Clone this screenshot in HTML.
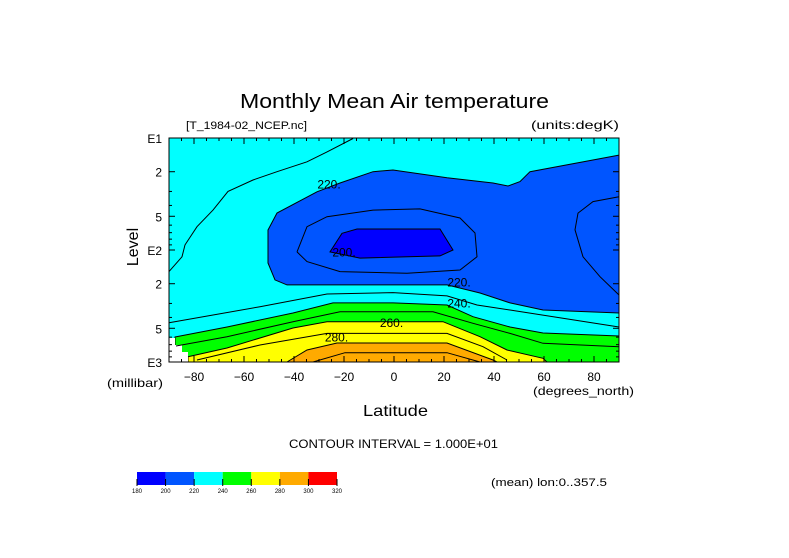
<!DOCTYPE html>
<html><head><meta charset="utf-8"><style>
body{margin:0;background:#fff;}
svg{display:block;font-family:"Liberation Sans",sans-serif;}
</style></head><body>
<svg id="chart" width="789" height="558" viewBox="0 0 789 558" xmlns="http://www.w3.org/2000/svg">
<rect width="789" height="558" fill="#fff"/>
<text x="240" y="108" font-size="20" textLength="309" lengthAdjust="spacingAndGlyphs" fill="#000">Monthly Mean Air temperature</text>
<text x="186" y="129" font-size="11" textLength="121" lengthAdjust="spacingAndGlyphs" fill="#000">[T_1984-02_NCEP.nc]</text>
<text x="531" y="129" font-size="12" textLength="88" lengthAdjust="spacingAndGlyphs" fill="#000">(units:degK)</text>
<g id="plot"></g>
<g id="axes"></g>
<text x="107" y="387" font-size="12" textLength="56" lengthAdjust="spacingAndGlyphs" fill="#000">(millibar)</text>
<text x="533" y="395" font-size="12" textLength="101" lengthAdjust="spacingAndGlyphs" fill="#000">(degrees_north)</text>
<text x="363" y="416" font-size="16" textLength="65" lengthAdjust="spacingAndGlyphs" fill="#000">Latitude</text>
<text x="138" y="247" font-size="16" text-anchor="middle" fill="#000" transform="rotate(-90 138 247)">Level</text>
<text x="289" y="448" font-size="12" textLength="209" lengthAdjust="spacingAndGlyphs" fill="#000">CONTOUR INTERVAL = 1.000E+01</text>
<g id="cbar"></g>
<text x="491" y="486" font-size="11" textLength="116" lengthAdjust="spacingAndGlyphs" fill="#000">(mean) lon:0..357.5</text>
</svg>
<script>
// axis tick data
const latTicks=[-80,-60,-40,-20,0,20,40,60,80];
const levTicks=[10,20,50,100,200,500,1000];
const levLabels=["E1","2","5","E2","2","5","E3"];
// colorbar data
const cbLevels=[180,200,220,240,260,280,300,320];
const cbColors=["#0000ff","#0055ff","#00ffff","#00ff00","#ffff00","#ffaa00","#ff0000"];
// filled regions: [lat, pressure hPa]
const region200_220=[[90,14.2],[54.4,20],[50.4,24.5],[45.6,26.8],[39.6,25.2],[21.2,22.6],[-0.4,19.3],[-8.4,20],[-21.6,25.2],[-30.8,30.2],[-46.8,46.7],[-50.4,66.3],[-50.4,130.6],[-47.6,185],[-42.8,205],[21.2,205],[34.4,242],[46.4,297],[59.6,343],[90,365]];
const region180_200=[[-20.8,71],[-14.8,65],[18.4,65],[23.6,100],[18.4,113],[-13.6,118],[-25.6,104]];
const region240=[[-87.6,598],[-66.8,487],[-40.4,365],[-24.4,297],[-0.4,297],[21.2,310],[31.6,394],[46.4,487],[59.6,551],[90,586],[90,1000],[-87.6,1000]];
const region260=[[-82.4,897],[-66.8,750],[-40.4,497],[-26.8,437],[19.6,437],[34.4,594],[45.2,781],[59.6,927],[61.2,1000],[-82.4,1000]];
const region280=[[-42.8,1000],[-34.8,781],[-22.8,676],[21.2,676],[39.6,960],[41.2,1000]];
// extra contour lines
const line230a=[[-90,156],[-84.8,115],[-83.6,90],[-78.8,62],[-72.4,44],[-66.4,30],[-56.4,23.7],[-46.8,20],[-34.8,16.3],[-26.8,13.3],[-16.4,10.1]];
const line230b=[[-90,446],[-53.6,321],[-26.8,247],[-0.4,240],[21.2,257],[33.2,310],[46.4,343],[90,487]];
const line210r=[[90,33.4],[79.6,37],[73.6,46.8],[72.4,66],[75.6,115],[82.4,173],[90,252]];
const line210loop=[[-38.8,104],[-34.8,62],[-26.8,50.4],[-8.4,44],[10.4,43],[26.4,51.8],[32.4,70.5],[33.2,115],[26.4,151],[5.2,161],[-21.6,156],[-34.8,127],[-38.8,104]];
const line250=[[-87.2,720],[-66.8,594],[-40.4,437],[-21.6,356],[15.6,356],[31.6,451],[46.4,555],[59.6,681],[90,730]];
const line270=[[-78.8,960],[-53.6,705],[-26.8,555],[21.2,555],[35.6,730],[45.2,960]];
const line290=[[-32.4,1000],[-19.6,826],[21.2,826],[34.4,1000]];
const cLabels=[["220.",-26,26],["200.",-20,105],["220.",26,195],["240.",26,300],["260.",-1,450],["280.",-23,605]];

const X0=169,X1=619,Y0=138,Y1=362;
const xs=lat=>X0+(lat+90)/180*(X1-X0);
const ys=p=>Y0+(Math.log10(p)-1)/2*(Y1-Y0);
const NS="http://www.w3.org/2000/svg";
function mk(tag,attrs,parent){const e=document.createElementNS(NS,tag);for(const k in attrs)e.setAttribute(k,attrs[k]);parent.appendChild(e);return e;}
const pts=a=>a.map(d=>xs(d[0]).toFixed(1)+","+ys(d[1]).toFixed(1)).join(" ");
const plot=document.getElementById("plot");
let e=mk("rect",{x:X0,y:Y0,width:X1-X0,height:Y1-Y0,fill:"#00ffff"},plot);


const fills=[[region200_220,"#0055ff","fill-200-220"],[region180_200,"#0000ff","fill-180-200"],[region240,"#00ff00","fill-240-260"],[region260,"#ffff00","fill-260-280"],[region280,"#ffaa00","fill-280-300"]];
fills.forEach(f=>{
  const el=mk("polygon",{points:pts(f[0]),fill:f[1],stroke:"#000","stroke-width":1},plot);
  
  
});
// missing-data patch
e=mk("polygon",{points:"169,338 175,338 175,345 182,345 182,352 188,352 188,362 169,362",fill:"#fff"},plot);


[[line230a,"contour-230-upper"],[line230b,"contour-230-lower"],[line210r,"contour-210-right"],[line210loop,"contour-210-loop"],[line250,"contour-250"],[line270,"contour-270"],[line290,"contour-290"]].forEach(l=>{
  const el=mk("polyline",{points:pts(l[0]),fill:"none",stroke:"#000","stroke-width":1},plot);
  
  
});
cLabels.forEach(c=>{
  const t=mk("text",{x:xs(c[1]),y:ys(c[2])+4,"font-size":12,"text-anchor":"middle",fill:"#000"},plot);
  t.textContent=c[0];
  
  
});
const ax=document.getElementById("axes");
e=mk("rect",{x:X0,y:Y0,width:X1-X0,height:Y1-Y0,fill:"none",stroke:"#000","stroke-width":1},ax);


for(let l=-85;l<90;l+=5){
  const major=latTicks.includes(l), len=major?6:3, x=xs(l);
  mk("line",{x1:x,y1:Y1,x2:x,y2:Y1-len,stroke:"#000"},ax);
  mk("line",{x1:x,y1:Y0,x2:x,y2:Y0+len,stroke:"#000"},ax);
}
latTicks.forEach(l=>{
  const t=mk("text",{x:xs(l),y:381,"font-size":12,"text-anchor":"middle",fill:"#000"},ax);
  t.textContent=String(l).replace("-","\u2212");
  
  
});
for(let d=1;d<=100;d*=10){for(let m=1;m<10;m++){const p=d*10*m;if(p>1000)break;const y=ys(p);const major=[1,2,5].includes(m);
  mk("line",{x1:X0,y1:y,x2:X0+(major?6:3),y2:y,stroke:"#000"},ax);
  mk("line",{x1:X1,y1:y,x2:X1-(major?6:3),y2:y,stroke:"#000"},ax);}}
levTicks.forEach((p,i)=>{
  const t=mk("text",{x:162,y:ys(p)+5,"font-size":12,"text-anchor":"end",fill:"#000"},ax);
  t.textContent=levLabels[i];
  
  
});
const cb=document.getElementById("cbar");
const cbx=i=>137+i*(200/(cbLevels.length-1));
cbColors.forEach((c,i)=>{
  const r=mk("rect",{x:cbx(i),y:472,width:cbx(i+1)-cbx(i),height:13,fill:c},cb);
  
  
});
cbLevels.forEach((v,i)=>{
  mk("line",{x1:cbx(i),y1:479,x2:cbx(i),y2:486,stroke:"#000"},cb);
  const t=mk("text",{x:cbx(i),y:493,"font-size":6,"text-anchor":"middle",fill:"#000"},cb);
  t.textContent=v;
  
  
});
</script>
</body></html>
